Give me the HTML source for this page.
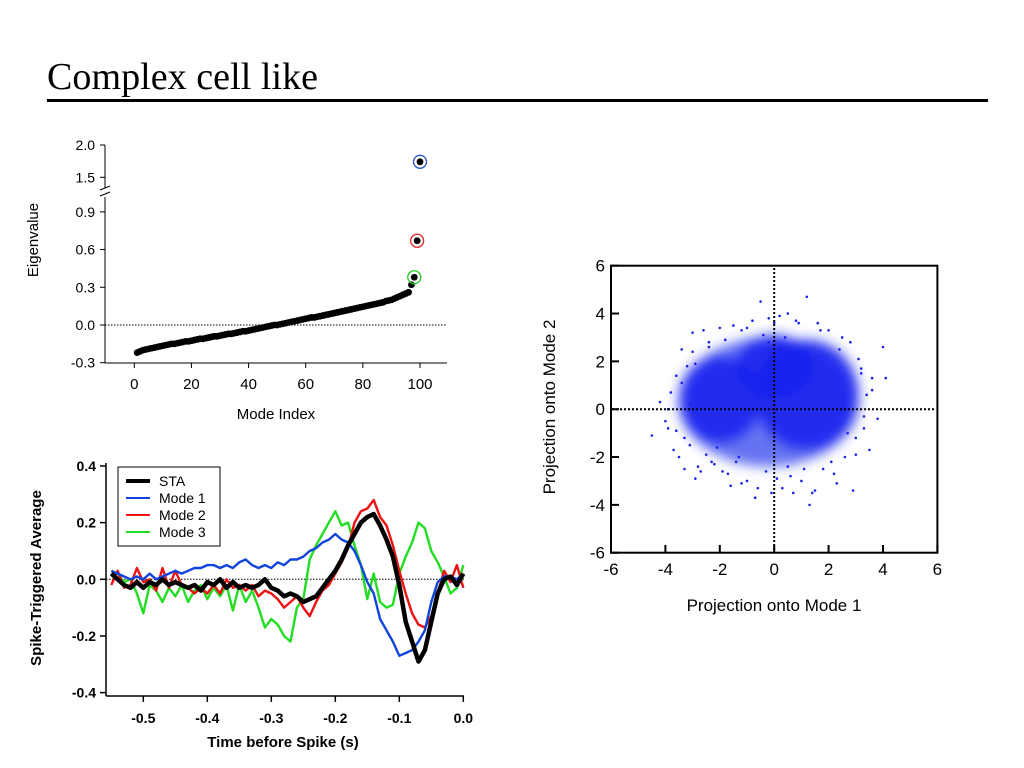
<!DOCTYPE html>
<html><head><meta charset="utf-8"><style>
html,body{margin:0;padding:0;background:#fff;width:1024px;height:768px;overflow:hidden}
svg{display:block}
text{font-family:"Liberation Sans",Arial,sans-serif}
</style></head><body>
<svg id="s" width="1024" height="768" viewBox="0 0 1024 768" xmlns="http://www.w3.org/2000/svg">
<text x="47" y="89" font-family="Liberation Serif,serif" style="font-family:'Liberation Serif',serif" font-size="38" textLength="271">Complex cell like</text>
<rect x="47" y="99" width="941" height="3" fill="#000"/>
<g id="eig"></g>
<g id="sta"></g>
<g id="sc"></g>
</svg>
<script>
const NS='http://www.w3.org/2000/svg';
function mk(p,t,a,txt){const e=document.createElementNS(NS,t);for(const k in a)e.setAttribute(k,a[k]);if(txt!==undefined)e.textContent=txt;p.appendChild(e);return e;}

// ===== Eigenvalue data =====
const eigIndex=[1,2,3,4,5,6,7,8,9,10,11,12,13,14,15,16,17,18,19,20,21,22,23,24,25,26,27,28,29,30,31,32,33,34,35,36,37,38,39,40,41,42,43,44,45,46,47,48,49,50,51,52,53,54,55,56,57,58,59,60,61,62,63,64,65,66,67,68,69,70,71,72,73,74,75,76,77,78,79,80,81,82,83,84,85,86,87,88,89,90,91,92,93,94,95,96,97,98,99,100];
const eigValues=[-0.22,-0.21,-0.2,-0.195,-0.19,-0.185,-0.18,-0.175,-0.17,-0.165,-0.16,-0.155,-0.15,-0.15,-0.145,-0.14,-0.135,-0.13,-0.13,-0.125,-0.12,-0.115,-0.11,-0.11,-0.105,-0.1,-0.095,-0.09,-0.09,-0.085,-0.08,-0.075,-0.07,-0.07,-0.065,-0.06,-0.055,-0.05,-0.05,-0.045,-0.04,-0.035,-0.03,-0.025,-0.02,-0.015,-0.01,-0.005,0,0,0.005,0.01,0.015,0.02,0.025,0.03,0.035,0.04,0.045,0.05,0.055,0.06,0.06,0.065,0.07,0.075,0.08,0.085,0.09,0.095,0.1,0.105,0.11,0.115,0.12,0.125,0.13,0.135,0.14,0.145,0.15,0.155,0.16,0.165,0.17,0.175,0.18,0.19,0.195,0.2,0.21,0.22,0.23,0.24,0.25,0.26,0.32,0.38,0.67,1.74];
const eigXTicks=[0,20,40,60,80,100];
const eigYTicksLow=[-0.3,0.0,0.3,0.6,0.9];
const eigYTicksHigh=[1.5,2.0];
const eigHighlight=[[98,'#22cc22'],[99,'#dd2222'],[100,'#2255cc']];

// ===== STA data =====
const staTime=[-0.55,-0.54,-0.53,-0.52,-0.51,-0.5,-0.49,-0.48,-0.47,-0.46,-0.45,-0.44,-0.43,-0.42,-0.41,-0.4,-0.39,-0.38,-0.37,-0.36,-0.35,-0.34,-0.33,-0.32,-0.31,-0.3,-0.29,-0.28,-0.27,-0.26,-0.25,-0.24,-0.23,-0.22,-0.21,-0.2,-0.19,-0.18,-0.17,-0.16,-0.15,-0.14,-0.13,-0.12,-0.11,-0.1,-0.09,-0.08,-0.07,-0.06,-0.05,-0.04,-0.03,-0.02,-0.01,0];
const staSTA=[0.02,0,-0.02,-0.03,-0.01,-0.03,-0.01,-0.02,0,-0.02,-0.01,-0.02,-0.03,-0.02,-0.04,-0.01,-0.02,0,-0.03,-0.01,-0.03,-0.02,-0.03,-0.02,0,-0.03,-0.04,-0.06,-0.05,-0.06,-0.08,-0.07,-0.06,-0.03,0,0.03,0.07,0.12,0.16,0.2,0.22,0.23,0.19,0.14,0.08,-0.02,-0.15,-0.22,-0.29,-0.25,-0.15,-0.05,0,0.01,-0.02,0.02];
const staMode1=[0.03,0.02,0.01,0,0.01,0,0.02,0,0.01,0.02,0.03,0.02,0.03,0.04,0.04,0.05,0.05,0.04,0.05,0.04,0.06,0.07,0.05,0.04,0.05,0.04,0.06,0.05,0.07,0.07,0.08,0.1,0.11,0.13,0.14,0.16,0.14,0.13,0.1,0.05,-0.01,-0.05,-0.14,-0.18,-0.22,-0.27,-0.26,-0.25,-0.22,-0.18,-0.08,-0.01,0.01,0.01,0,0.02];
const staMode2=[-0.02,0.03,-0.03,-0.02,0.04,-0.01,0,-0.04,0.04,-0.03,0.03,-0.02,-0.03,-0.05,-0.03,-0.05,-0.02,-0.05,0,-0.03,-0.02,-0.04,-0.02,-0.06,-0.04,-0.05,-0.07,-0.1,-0.08,-0.06,-0.1,-0.13,-0.08,-0.04,-0.02,0.02,0.06,0.11,0.2,0.24,0.25,0.28,0.22,0.19,0.12,0.03,-0.05,-0.12,-0.16,-0.17,-0.13,-0.05,0.03,-0.01,0.05,-0.03];
const staMode3=[0.03,0.02,-0.01,0,-0.05,-0.12,-0.02,-0.04,-0.08,-0.03,-0.06,-0.02,-0.08,-0.04,-0.02,-0.07,-0.03,-0.06,-0.02,-0.11,-0.02,-0.08,-0.04,-0.1,-0.17,-0.14,-0.16,-0.2,-0.22,-0.1,-0.07,0.07,0.12,0.16,0.2,0.24,0.19,0.2,0.12,0.05,-0.07,0.02,-0.08,-0.1,-0.09,0.02,0.08,0.13,0.2,0.18,0.1,0.06,0.01,-0.05,-0.03,0.05];
const staXTicks=[-0.5,-0.4,-0.3,-0.2,-0.1,0.0];
const staYTicks=[-0.4,-0.2,0.0,0.2,0.4];

// ===== Scatter data =====
const scTicks=[-6,-4,-2,0,2,4,6];
// dense density lobes: center x, center y, radius x, radius y (data units)
const lobeCX=[-0.2,-2.0,1.2,0.0];
const lobeCY=[0.3,0.4,0.6,1.8];
const lobeRX=[3.3,1.5,1.9,1.4];
const lobeRY=[2.7,1.8,2.3,1.3];
const ptX=[-4.5,-4.2,-3.9,-3.8,-3.7,-3.6,-3.5,-3.4,-3.3,-3.2,-3.1,-3.0,-2.9,-2.8,-2.8,-2.6,-2.5,-2.4,-2.2,-2.0,-1.9,-1.8,-1.6,-1.5,-1.3,-1.2,-1.0,-0.8,-0.6,-0.5,-0.3,-0.2,-0.1,0.2,0.3,0.5,0.6,0.8,1.0,1.2,1.3,1.4,1.6,1.8,2.0,2.2,2.4,2.6,2.8,3.0,3.1,3.2,3.3,3.4,3.5,3.6,3.8,4.0,4.1,-3.9,-3.6,-3.3,-3.0,-2.7,-2.3,-1.7,-1.2,-0.7,0.1,0.7,1.5,2.3,2.9,3.3,3.6,-4.0,-3.4,-2.9,-2.4,-0.4,0.0,0.4,0.9,1.7,2.5,3.2,-1.0,-0.2,0.5,1.1,2.1,-3.1,-2.1,-1.4,2.7,3.0];
const ptY=[-1.1,0.3,-0.8,0.7,-1.7,1.4,-2.0,2.5,-2.5,1.8,-1.5,3.2,-2.9,0.9,-2.4,3.3,-1.9,2.8,-2.3,3.4,-2.6,2.9,-3.2,3.5,-2.0,3.3,-3.0,3.7,-3.3,4.5,-2.6,3.8,-3.5,3.9,-3.3,4.0,-2.8,3.7,-3.0,4.7,-4.0,-3.5,3.6,-2.5,3.3,-2.7,2.5,-2.0,2.8,-1.2,2.1,1.5,-0.8,0.6,-1.7,1.3,-0.4,2.6,1.3,0.0,-0.9,-1.2,2.4,-2.6,-2.2,-2.7,-3.1,-3.7,-2.9,-3.5,-3.4,-3.1,-3.4,-0.3,0.8,-0.5,1.1,1.9,2.6,3.1,3.6,3.0,3.6,3.3,3.0,1.7,3.4,2.8,-2.4,-2.5,-2.2,0.2,-1.6,-2.2,-1.0,-1.9];

// ================= EIGEN CHART =================
(function(){
 const g=document.getElementById('eig');
 const X=v=>134.3+v*2.857;
 const YL=v=>325-v*125.7;
 const YH=v=>145+(2-v)*64.6;
 const Y=v=>v>1.2?YH(v):YL(v);
 let a=mk(g,'line',{x1:105,y1:145,x2:105,y2:188,stroke:'#000','stroke-width':1});
 
 a=mk(g,'line',{x1:105,y1:197,x2:105,y2:363,stroke:'#000','stroke-width':1});
 
 a=mk(g,'path',{d:'M100,190 L110,186 M100,196 L110,192',stroke:'#000','stroke-width':1,fill:'none'});
 
 a=mk(g,'line',{x1:105,y1:363,x2:447,y2:363,stroke:'#000','stroke-width':1});
 
 a=mk(g,'line',{x1:105,y1:YL(0),x2:447,y2:YL(0),stroke:'#000','stroke-width':1,'stroke-dasharray':'1.5,1.5'});
 
 eigXTicks.forEach(t=>{
  mk(g,'line',{x1:X(t),y1:363,x2:X(t),y2:368,stroke:'#000'});
  const tx=mk(g,'text',{x:X(t),y:389,'font-size':15,'text-anchor':'middle'},String(t));
  
 });
 eigYTicksLow.forEach(t=>{
  mk(g,'line',{x1:100,y1:YL(t),x2:105,y2:YL(t),stroke:'#000'});
  const tx=mk(g,'text',{x:95,y:YL(t)+5,'font-size':14,'text-anchor':'end'},t.toFixed(1));
  
 });
 eigYTicksHigh.forEach(t=>{
  mk(g,'line',{x1:100,y1:YH(t),x2:105,y2:YH(t),stroke:'#000'});
  const tx=mk(g,'text',{x:95,y:YH(t)+5,'font-size':14,'text-anchor':'end'},t.toFixed(1));
  
 });
 let t=mk(g,'text',{x:276,y:419,'font-size':15,'text-anchor':'middle'},'Mode Index');
 
 t=mk(g,'text',{x:0,y:0,'font-size':15,'text-anchor':'middle',transform:'translate(38,240) rotate(-90)'},'Eigenvalue');
 
 eigIndex.forEach((i,k)=>{
  const c=mk(g,'circle',{cx:X(i),cy:Y(eigValues[k]),r:3.4,fill:'#000'});
  
 });
 eigHighlight.forEach(h=>{
  const k=eigIndex.indexOf(h[0]);
  const c=mk(g,'circle',{cx:X(h[0]),cy:Y(eigValues[k]),r:6.5,fill:'none',stroke:h[1],'stroke-width':1.3});
  
 });
})();

// ================= STA CHART =================
(function(){
 const g=document.getElementById('sta');
 const X=t=>463.3+t*640;
 const Y=v=>579.3-v*283.3;
 let a=mk(g,'line',{x1:106,y1:463,x2:106,y2:696,stroke:'#000','stroke-width':1.5});
 
 a=mk(g,'line',{x1:106,y1:696,x2:464,y2:696,stroke:'#000','stroke-width':1.5});
 
 a=mk(g,'line',{x1:106,y1:Y(0),x2:464,y2:Y(0),stroke:'#000','stroke-width':1,'stroke-dasharray':'1.5,1.5'});
 
 staXTicks.forEach(t=>{
  mk(g,'line',{x1:X(t),y1:696,x2:X(t),y2:702,stroke:'#000','stroke-width':1.5});
  const tx=mk(g,'text',{x:X(t),y:723,'font-size':14,'font-weight':'bold','text-anchor':'middle'},t.toFixed(1));
  
 });
 staYTicks.forEach(t=>{
  mk(g,'line',{x1:100,y1:Y(t),x2:106,y2:Y(t),stroke:'#000','stroke-width':1.5});
  const tx=mk(g,'text',{x:96,y:Y(t)+5,'font-size':14,'font-weight':'bold','text-anchor':'end'},t.toFixed(1));
  
 });
 let t=mk(g,'text',{x:283,y:747,'font-size':15,'font-weight':'bold','text-anchor':'middle'},'Time before Spike (s)');
 
 t=mk(g,'text',{x:0,y:0,'font-size':15,'font-weight':'bold','text-anchor':'middle',transform:'translate(41,578) rotate(-90)'},'Spike-Triggered Average');
 
 const series=[[staMode3,'#22dd22',2.4,'mode3-line'],[staMode2,'#ee1111',2.4,'mode2-line'],[staMode1,'#1144dd',2.4,'mode1-line'],[staSTA,'#000',4.5,'sta-line']];
 series.forEach(s=>{
  const d=staTime.map((tt,i)=>(i?'L':'M')+X(tt).toFixed(1)+','+Y(s[0][i]).toFixed(1)).join(' ');
  const p=mk(g,'path',{d:d,fill:'none',stroke:s[1],'stroke-width':s[2],'stroke-linejoin':'round'});
  
 });
 const lg=mk(g,'g',{});
 
 mk(lg,'rect',{x:118,y:467,width:102,height:79,fill:'#fff',stroke:'#000','stroke-width':1});
 const items=[['STA','#000',4],['Mode 1','#1144dd',2],['Mode 2','#ee1111',2],['Mode 3','#22dd22',2]];
 items.forEach((it,i)=>{
  const y=481+i*17;
  const le=mk(lg,'g',{});
  
  mk(le,'line',{x1:126,y1:y,x2:150,y2:y,stroke:it[1],'stroke-width':it[2]});
  mk(le,'text',{x:159,y:y+5,'font-size':14},it[0]);
 });
})();

// ================= SCATTER =================
(function(){
 const g=document.getElementById('sc');
 const X=v=>774.2+v*27.2;
 const Y=v=>409.2-v*23.92;
 const defs=mk(g,'defs',{});
 const f=mk(defs,'filter',{id:'bl',x:'-20%',y:'-20%',width:'140%',height:'140%'});
 mk(f,'feGaussianBlur',{stdDeviation:6});
 const dens=mk(g,'g',{filter:'url(#bl)'});
 
 lobeCX.forEach((cx,i)=>{
  mk(dens,'ellipse',{cx:X(cx),cy:Y(lobeCY[i]),rx:lobeRX[i]*27.2,ry:lobeRY[i]*23.92,fill:i===0?'#3344ee':'#1a22ee','fill-opacity':i===0?0.75:0.9});
 });
 ptX.forEach((x,i)=>{
  const c=mk(g,'circle',{cx:X(x),cy:Y(ptY[i]),r:1.3,fill:'#1a22ee'});
  
 });
 let a=mk(g,'line',{x1:X(0),y1:268,x2:X(0),y2:552,stroke:'#000','stroke-width':2,'stroke-dasharray':'2,2'});
 
 a=mk(g,'line',{x1:612,y1:Y(0),x2:936,y2:Y(0),stroke:'#000','stroke-width':2,'stroke-dasharray':'2,2'});
 
 a=mk(g,'rect',{x:611,y:265.7,width:326.4,height:287,fill:'none',stroke:'#000','stroke-width':2});
 
 scTicks.forEach(t=>{
  mk(g,'line',{x1:X(t),y1:552.7,x2:X(t),y2:545,stroke:'#000','stroke-width':2});
  mk(g,'line',{x1:611,y1:Y(t),x2:619,y2:Y(t),stroke:'#000','stroke-width':2});
  let tx=mk(g,'text',{x:X(t),y:575,'font-size':17,'text-anchor':'middle'},String(t));
  
  tx=mk(g,'text',{x:605,y:Y(t)+6,'font-size':17,'text-anchor':'end'},String(t));
  
 });
 let t=mk(g,'text',{x:774,y:611,'font-size':17,'text-anchor':'middle'},'Projection onto Mode 1');
 
 t=mk(g,'text',{x:0,y:0,'font-size':17,'text-anchor':'middle',transform:'translate(555,407) rotate(-90)'},'Projection onto Mode 2');
 
})();
</script>
</body></html>
